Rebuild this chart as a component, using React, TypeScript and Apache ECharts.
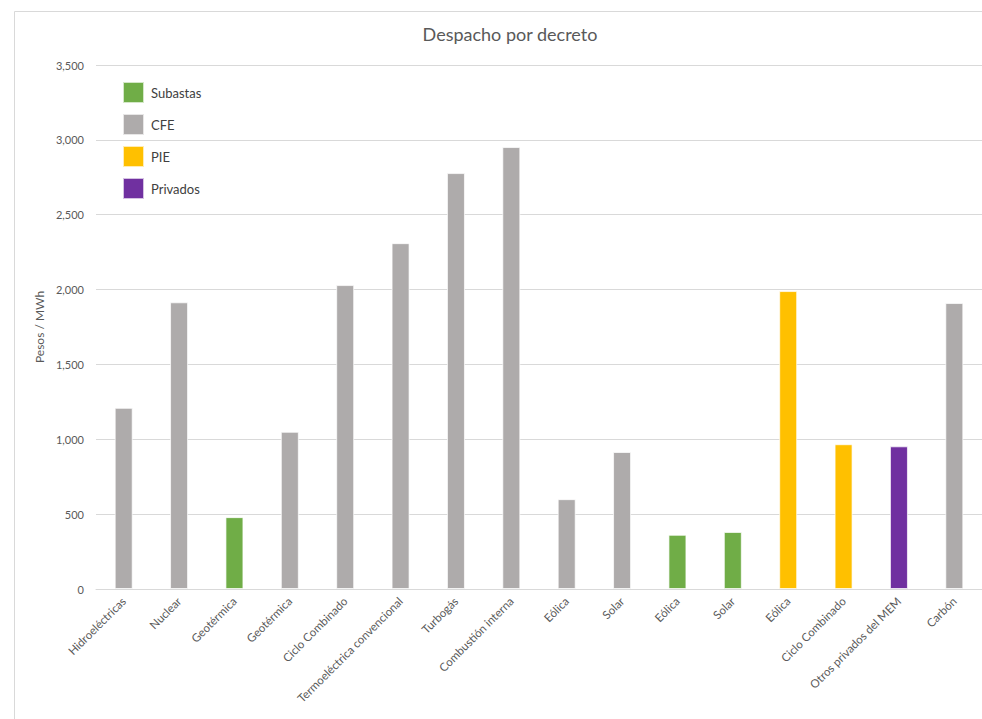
import React, { useEffect, useRef } from "react";
import * as echarts from "echarts";

const categories = [
  "Hidroeléctricas",
  "Nuclear",
  "Geotérmica",
  "Geotérmica",
  "Ciclo Combinado",
  "Termoeléctrica convencional",
  "Turbogás",
  "Combustión interna",
  "Eólica",
  "Solar",
  "Eólica",
  "Solar",
  "Eólica",
  "Ciclo Combinado",
  "Otros privados del MEM",
  "Carbón",
];

const subastas = ["-", "-", 480, "-", "-", "-", "-", "-", "-", "-", 362, 381, "-", "-", "-", "-"];
const cfe = [1210, 1915, "-", 1050, 2030, 2310, 2778, 2952, 600, 915, "-", "-", "-", "-", "-", 1910];
const pie = ["-", "-", "-", "-", "-", "-", "-", "-", "-", "-", "-", "-", 1990, 967, "-", "-"];
const privados = ["-", "-", "-", "-", "-", "-", "-", "-", "-", "-", "-", "-", "-", "-", 953, "-"];

const seriesNames = ["Subastas", "CFE", "PIE", "Privados"];
const seriesColors = ["#70AD47", "#AEABAB", "#FFC000", "#7030A0"];

const FONT = "Lato, 'Open Sans', sans-serif";

export default function App() {
  const ref = useRef<HTMLDivElement>(null);

  useEffect(() => {
    if (!ref.current) return;
    const chart = echarts.init(ref.current, null, { renderer: "svg" });
    const datasets = [subastas, cfe, pie, privados];
    chart.setOption({
      animation: false,
      backgroundColor: "#ffffff",
      textStyle: { fontFamily: FONT },
      title: {
        text: "Despacho por decreto",
        left: 505,
        textAlign: "center",
        top: 20,
        textStyle: { fontFamily: FONT, fontSize: 18, fontWeight: "normal", color: "#595959" },
      },
      graphic: [
        {
          type: "rect",
          shape: { x: 14.5, y: 11.5, width: 1000, height: 800 },
          style: { fill: "none", stroke: "#d9d9d9", lineWidth: 1 },
          silent: true,
          z: -10,
        },
      ],
      legend: {
        orient: "vertical",
        left: 117,
        top: 76,
        itemWidth: 21,
        itemHeight: 21,
        itemGap: 9,
        icon: "rect",
        data: seriesNames,
        textStyle: { fontFamily: FONT, fontSize: 13, color: "#404040", padding: [0, 0, 0, 2] },
      },
      grid: { left: 96, top: 65, width: 887, height: 524, containLabel: false },
      xAxis: {
        type: "category",
        data: categories,
        axisLine: { lineStyle: { color: "#d9d9d9" } },
        axisTick: { show: false },
        axisLabel: {
          interval: 0,
          rotate: 45,
          margin: 10,
          fontFamily: FONT,
          fontSize: 11.5,
          color: "#595959",
        },
      },
      yAxis: {
        type: "value",
        min: 0,
        max: 3500,
        interval: 500,
        name: "Pesos / MWh",
        nameLocation: "middle",
        nameRotate: 90,
        nameGap: 48,
        nameTextStyle: { fontFamily: FONT, fontSize: 12, color: "#595959" },
        axisLine: { show: false },
        axisTick: { show: false },
        splitLine: { lineStyle: { color: "#d9d9d9" } },
        axisLabel: {
          margin: 12,
          fontFamily: FONT,
          fontSize: 11,
          color: "#595959",
          formatter: (v: number) => v.toLocaleString("en-US"),
        },
      },
      series: seriesNames.map((name, i) => ({
        name,
        type: "bar",
        stack: "all",
        barWidth: 18,
        data: datasets[i],
        itemStyle: {
          color: seriesColors[i],
          borderColor: "rgba(255,255,255,0.7)",
          borderWidth: 1,
        },
      })),
    });
    return () => chart.dispose();
  }, []);

  return (
    <div
      ref={ref}
      style={{ position: "fixed", left: 0, top: 0, width: 982, height: 719 }}
    />
  );
}
